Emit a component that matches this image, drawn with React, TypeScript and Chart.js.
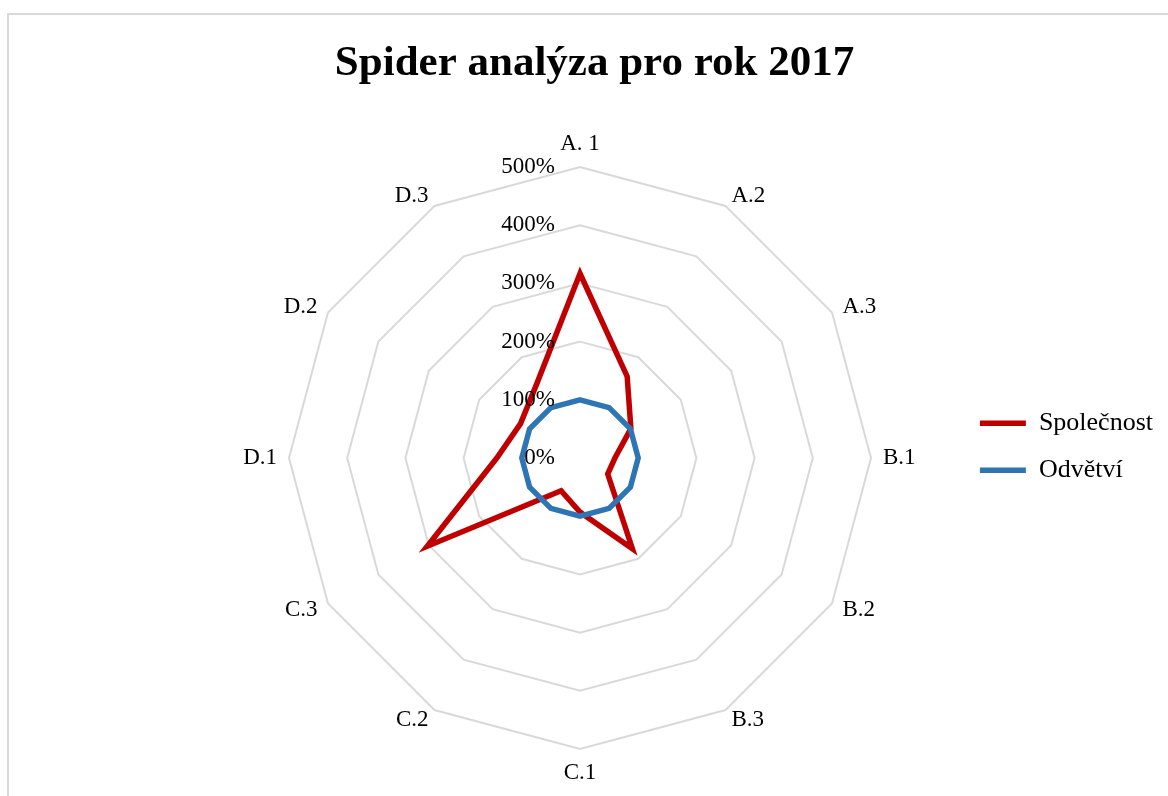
import React, { useEffect, useRef } from 'react';
import { Chart, registerables } from 'chart.js';

Chart.register(...registerables);

// ---- data ----
const chartTitle = 'Spider analýza pro rok 2017';
const categories = ['A. 1', 'A.2', 'A.3', 'B.1', 'B.2', 'B.3', 'C.1', 'C.2', 'C.3', 'D.1', 'D.2', 'D.3'];
const seriesNames = ['Společnost', 'Odvětví'];
const spolecnost = [317, 162, 101, 60, 55, 180, 93, 65, 303, 143, 118, 148];
const odvetvi = [100, 100, 100, 100, 100, 100, 100, 100, 100, 100, 100, 100];
const tickMin = 0;
const tickMax = 500;
const tickStep = 100;

// ---- styles / layout ----
const FONT = "'Liberation Serif', 'Times New Roman', serif";
const RED = '#C00000';
const BLUE = '#2E75B6';
const GRID = '#D9D9D9';
const CENTER_X = 571;
const CENTER_Y = 443;
const RADIUS = 291;

const excelLabels = {
  id: 'excelLabels',
  afterDatasetsDraw(chart: any) {
    const scale = chart.scales.r;
    const ctx = chart.ctx;
    ctx.save();
    ctx.fillStyle = '#000';
    ctx.font = `23px ${FONT}`;
    // tick labels, right aligned left of the vertical axis
    ctx.textAlign = 'right';
    ctx.textBaseline = 'middle';
    scale.ticks.forEach((t: any) => {
      const d = scale.getDistanceFromCenterForValue(t.value);
      ctx.fillText(t.label, scale.xCenter - 25, scale.yCenter - d);
    });
    // category labels
    const outer = scale.drawingArea + 12;
    (chart.data.labels as string[]).forEach((lab, i) => {
      const p = scale.getPointPosition(i, outer);
      const dx = p.x - scale.xCenter;
      const dy = p.y - scale.yCenter;
      if (Math.abs(dx) < 1) {
        ctx.textAlign = 'center';
        ctx.textBaseline = dy < 0 ? 'bottom' : 'top';
      } else {
        ctx.textAlign = dx > 0 ? 'left' : 'right';
        ctx.textBaseline = 'middle';
      }
      ctx.fillText(lab, p.x, p.y);
    });
    ctx.restore();
  },
};

export default function App() {
  const ref = useRef<HTMLCanvasElement>(null);
  useEffect(() => {
    const chart = new Chart(ref.current as HTMLCanvasElement, {
      type: 'radar',
      data: {
        labels: categories,
        datasets: [
          {
            label: seriesNames[0],
            data: spolecnost,
            borderColor: RED,
            backgroundColor: RED,
            borderWidth: 5.5,
            fill: false,
            pointRadius: 0,
            pointHoverRadius: 0,
            borderJoinStyle: 'miter',
            borderCapStyle: 'round',
            order: 1,
          },
          {
            label: seriesNames[1],
            data: odvetvi,
            borderColor: BLUE,
            backgroundColor: BLUE,
            borderWidth: 5.5,
            fill: false,
            pointRadius: 0,
            pointHoverRadius: 0,
            borderJoinStyle: 'miter',
            borderCapStyle: 'round',
            order: 0,
          },
        ],
      } as any,
      options: {
        responsive: false,
        animation: false,
        events: [],
        layout: { padding: { left: 17, right: 17, top: 0, bottom: 0 } },
        scales: {
          r: {
            min: tickMin,
            max: tickMax,
            ticks: {
              stepSize: tickStep,
              display: false,
              callback: (v: any) => `${v}%`,
            },
            grid: { color: GRID, lineWidth: 2 },
            angleLines: { display: false },
            pointLabels: { display: false },
            afterFit: (s: any) => {
              s.drawingArea = RADIUS;
              s.xCenter = CENTER_X;
              s.yCenter = CENTER_Y;
            },
          } as any,
        },
        plugins: {
          title: {
            display: true,
            text: chartTitle,
            color: '#000',
            font: { family: FONT, size: 43, weight: 'bold' },
            padding: { top: 23, bottom: 8 },
          },
          legend: {
            position: 'right',
            fullSize: false,
            labels: {
              usePointStyle: true,
              pointStyle: 'line',
              pointStyleWidth: 46,
              padding: 21,
              color: '#000',
              font: { family: FONT, size: 26 },
              sort: (a: any, b: any) => a.datasetIndex - b.datasetIndex,
            },
          },
          tooltip: { enabled: false },
        },
      } as any,
      plugins: [excelLabels],
    });
    return () => chart.destroy();
  }, []);

  return (
    <div
      style={{
        position: 'absolute',
        left: 7,
        top: 13,
        width: 1161,
        height: 783,
        overflow: 'hidden',
        borderTop: '2px solid #D9D9D9',
        borderLeft: '2px solid #D9D9D9',
        boxSizing: 'border-box',
        background: '#fff',
      }}
    >
      <canvas ref={ref} width={1171} height={781} style={{ display: 'block' }} />
    </div>
  );
}
